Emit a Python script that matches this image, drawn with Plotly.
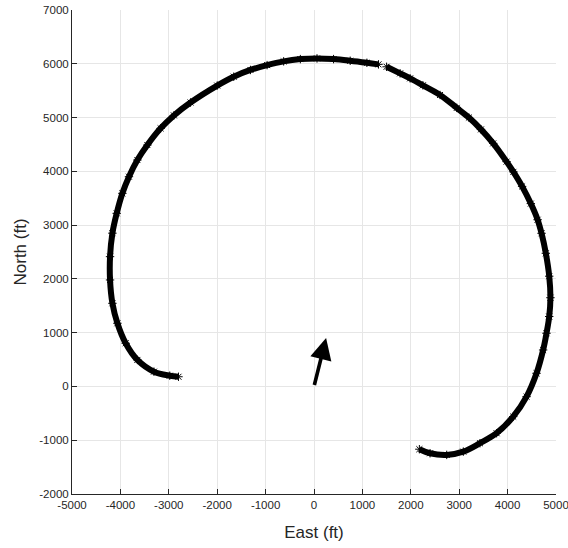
import plotly.graph_objects as go

# Ground track, eastern arc (from the south-east end up to the northern break)
east_a = [2177, 2398, 2742, 3085, 3429, 3773, 4116, 4392, 4598, 4734, 4804, 4860,
          4885, 4860, 4790, 4701, 4620, 4480, 4300, 4120, 3979, 3703, 3450, 3200,
          2950, 2604, 2250, 1986, 1779, 1500]
north_a = [-1167, -1242, -1273, -1212, -1056, -870, -561, -190, 245, 678, 989, 1300,
           1650, 2050, 2476, 2848, 3100, 3400, 3720, 3990, 4180, 4520, 4780, 5000,
           5180, 5420, 5600, 5729, 5822, 5944]

# Ground track, northern and western arc (from the break down to the western end)
east_b = [1332, 1093, 748, 404, 62, -282, -627, -969, -1313, -1658, -2000,
          -2551, -2895, -3169, -3443, -3649, -3823, -3959, -4076, -4165, -4214,
          -4214, -4165, -4062, -3891, -3649, -3307, -2980, -2800]
north_b = [5989, 6018, 6056, 6087, 6100, 6087, 6045, 5975, 5885, 5760, 5595,
           5280, 5040, 4799, 4489, 4210, 3900, 3591, 3219, 2850, 2413,
           1980, 1546, 1175, 803, 493, 275, 200, 180]

# Heading vector drawn from the origin
arrow_east = [0, 250]
arrow_north = [0, 900]

x_ticks = [-5000, -4000, -3000, -2000, -1000, 0, 1000, 2000, 3000, 4000, 5000]
y_ticks = [-2000, -1000, 0, 1000, 2000, 3000, 4000, 5000, 6000, 7000]
x_labels = ["-5000", "-4000", "-3000", "-2000", "-1000", "0", "1000", "2000", "3000", "4000", "5000"]
y_labels = ["-2000", "-1000", "0", "1000", "2000", "3000", "4000", "5000", "6000", "7000"]

FONT = "Liberation Sans, Arial, Helvetica, sans-serif"
AXIS_COLOR = "#262626"
GRID_COLOR = "#e6e6e6"

fig = go.Figure()
for xs, ys in ((east_a, north_a), (east_b, north_b)):
    fig.add_trace(go.Scatter(
        x=xs, y=ys, mode="lines+markers",
        line=dict(color="black", width=6, shape="spline"),
        marker=dict(symbol="asterisk-open", size=7, color="black",
                    line=dict(width=1, color="black")),
        showlegend=False, hoverinfo="skip",
    ))

fig.add_annotation(
    x=arrow_east[1], y=arrow_north[1], ax=arrow_east[0], ay=arrow_north[0],
    xref="x", yref="y", axref="x", ayref="y",
    text="", showarrow=True, arrowhead=2, arrowsize=1.2, arrowwidth=3.6,
    arrowcolor="black", standoff=0, startstandoff=0,
)

axis_common = dict(
    ticks="inside", ticklen=5, tickwidth=1, tickcolor=AXIS_COLOR,
    showline=True, linecolor=AXIS_COLOR, linewidth=1, mirror=False,
    showgrid=True, gridcolor=GRID_COLOR, gridwidth=1, zeroline=False,
    tickfont=dict(family=FONT, size=11.5, color=AXIS_COLOR),
    automargin=False, ticklabeloverflow="allow",
)

fig.update_xaxes(
    range=[-5000, 5000], tickmode="array", tickvals=x_ticks, ticktext=x_labels,
    title=dict(text="East (ft)", font=dict(family=FONT, size=17, color=AXIS_COLOR), standoff=16),
    **axis_common,
)
fig.update_yaxes(
    range=[-2000, 7000], tickmode="array", tickvals=y_ticks, ticktext=y_labels,
    title=dict(text="North (ft)", font=dict(family=FONT, size=17, color=AXIS_COLOR), standoff=8),
    **axis_common,
)

fig.update_layout(
    width=568, height=548,
    margin=dict(l=72, r=12, t=10, b=54, autoexpand=False),
    paper_bgcolor="white", plot_bgcolor="white",
    showlegend=False,
)

fig.write_html("out.html")
